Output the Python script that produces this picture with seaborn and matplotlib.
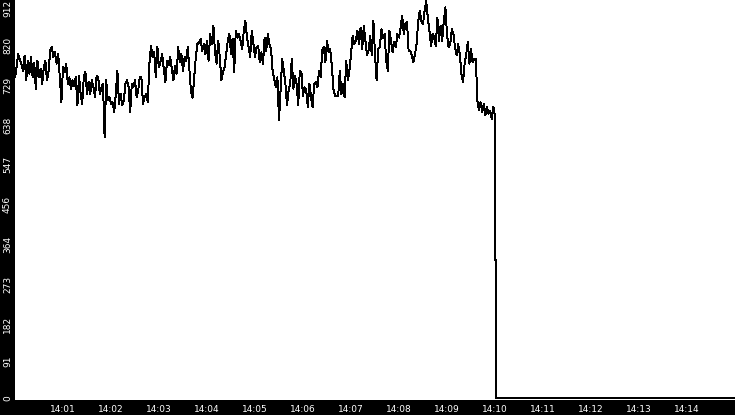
import matplotlib
matplotlib.use("Agg")
import matplotlib.pyplot as plt
import matplotlib.dates as mdates
import matplotlib.transforms as mtransforms
import seaborn as sns
import pandas as pd

# readings every 2 s from 14:00:00
seg_a = [735, 758, 788, 777, 766, 750, 785, 728, 773, 743,
         781, 735, 769, 709, 773, 735, 754, 720, 758, 773,
         728, 750, 796, 804, 781, 792, 766, 788, 735, 678,
         758, 747, 766, 720, 735, 709, 728, 716, 735, 671,
         739]
seg_b = [697, 674, 735, 747, 697, 724, 697, 728, 712, 690,
         739, 735, 697, 712, 720, 598, 728, 682, 690, 674,
         678, 655, 697, 750, 674, 697, 671, 682, 720, 728,
         712, 655, 720, 712, 728, 690, 705, 735, 735]
seg_c = [674, 690, 697, 678, 766, 807, 781, 792, 735, 804,
         758, 773, 788, 754, 724, 773, 762, 781, 754, 728,
         762, 743, 804, 769, 788, 750, 781, 773, 804, 754,
         701, 688, 735, 781, 811, 815, 823, 796, 811, 788,
         819, 773, 834, 811, 853, 792, 766, 819, 781, 728,
         747, 758, 788, 819, 834, 788, 823, 747, 842, 826,
         834, 819, 800, 842, 864, 826, 804, 781, 842, 811,
         781, 804, 807]
seg_d = [769, 792, 766, 826, 796, 834, 811, 800, 750, 731,
         712, 735, 636, 705, 777, 750, 720, 671, 705, 720,
         777, 709, 739, 720, 671, 750, 747, 693, 712, 705,
         667, 720, 690, 667, 720, 724, 712, 750, 735, 796,
         804, 769, 819, 792, 800, 762, 709, 693, 693, 693,
         750, 697, 720, 690, 773, 728, 750, 788, 830, 811,
         819, 842, 811, 849, 800, 853, 819, 785, 796, 830,
         785, 864, 788, 728, 800]
seg_e = [804, 845, 826, 834, 773, 750, 842, 819, 792, 815,
         804, 834, 826, 849, 876, 834, 857, 861, 796, 796,
         785, 769, 788, 811, 864, 887, 864, 857, 887, 910,
         872, 842, 807, 834, 826, 807, 872, 819, 853, 819,
         864, 895, 834, 804, 811, 845, 834, 804, 785, 811,
         788, 743, 724, 766, 788, 815, 766, 800, 769, 777,
         777, 682, 659, 678, 655, 674, 648, 667, 652, 659,
         640, 667]

# the drop and the flat zero after it
tail_times = ["14:09:59.8", "14:10:00.0", "14:10:01.2", "14:10:01.3", "14:15:00"]
tail_values = [648, 317, 317, 0, 0]

x_ticks = ["14:01", "14:02", "14:03", "14:04", "14:05", "14:06", "14:07",
           "14:08", "14:09", "14:10", "14:11", "14:12", "14:13", "14:14"]
y_ticks = [0, 91.2, 182.4, 273.6, 364.8, 456, 547.2, 638.4, 729.6, 820.8, 912]
y_labels = ["0", "91", "182", "273", "364", "456", "547", "638", "729", "820", "912"]

day = "2024-01-01 "
values = seg_a + seg_b + seg_c + seg_d + seg_e
times = list(pd.date_range(day + "14:00:00", periods=len(values), freq="2s"))
times += [pd.Timestamp(day + t) for t in tail_times]
values += tail_values
df = pd.DataFrame({"time": times, "value": values})

sns.set_style("white")
fig = plt.figure(figsize=(7.35, 4.15), dpi=100)
fig.patch.set_facecolor("black")
ax = fig.add_axes([15 / 735, 15 / 415, 720 / 735, 400 / 415])
ax.set_facecolor("white")

sns.lineplot(data=df, x="time", y="value", color="black", linewidth=0.7,
             ax=ax, antialiased=False)

ax.set_xlim(pd.Timestamp(day + "14:00:00"), pd.Timestamp(day + "14:15:00"))
ax.set_ylim(-4, 912)
ax.set_xticks([pd.Timestamp(day + t) for t in x_ticks])
ax.xaxis.set_major_formatter(mdates.DateFormatter("%H:%M"))
ax.set_yticks(y_ticks)
ax.set_yticklabels(y_labels)

ax.tick_params(axis="both", colors="white", length=3.6, width=0.75,
               labelsize=6.5, direction="out")
ax.tick_params(axis="x", pad=0)
ax.tick_params(axis="y", pad=-1.4)

shift = mtransforms.ScaledTranslation(0, 3 / 100, fig.dpi_scale_trans)
for i, tick in enumerate(ax.yaxis.get_major_ticks()):
    lab = tick.label1
    lab.set_rotation(90)
    lab.set_va("top")
    lab.set_ha("right")
    if i < len(y_ticks) - 1:
        lab.set_transform(lab.get_transform() + shift)

for s in ax.spines.values():
    s.set_visible(False)
ax.set_xlabel("")
ax.set_ylabel("")
ax.grid(False)

fig.savefig("out.png", dpi=100, facecolor="black")
